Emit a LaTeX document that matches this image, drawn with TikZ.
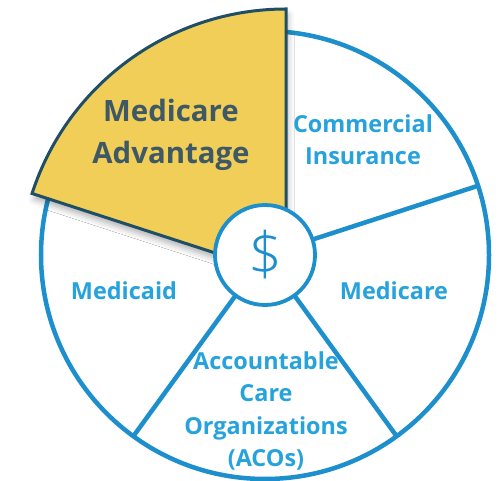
\documentclass[tikz,border=0pt]{standalone}
\usepackage{fontspec}
\setmainfont{Open Sans}
\newfontfamily\thinface{Open Sans Light}
\usetikzlibrary{calc,shadows.blur}
\definecolor{lineblue}{RGB}{29,143,204}
\definecolor{labelblue}{RGB}{38,162,220}
\definecolor{wedgefill}{RGB}{240,206,87}
\definecolor{wedgeedge}{RGB}{31,78,102}
\definecolor{wedgetext}{RGB}{62,88,102}
\tikzset{
  ring/.style={draw=lineblue, line width=4.5bp, fill=white},
  spoke/.style={draw=lineblue, line width=4.5bp},
  hub/.style={circle, draw=lineblue, line width=3.8bp, fill=white, minimum size=100bp, inner sep=0pt},
  highlight/.style={fill=wedgefill, draw=wedgeedge, line width=3bp, line join=miter,
    blur shadow={shadow xshift=2bp, shadow yshift=-6bp, shadow blur radius=6bp, shadow opacity=30}},
  seglabel/.style={font=\bfseries\fontsize{23.5}{32.3}\selectfont, text=labelblue, align=center, inner sep=0pt},
  biglabel/.style={font=\bfseries\fontsize{29.5}{42}\selectfont, text=wedgetext, align=center, inner sep=0pt}
}
\begin{document}
\begin{tikzpicture}[x=1bp,y=1bp]
  \useasboundingbox (0,0) rectangle (503,481);
  \coordinate (C) at (265,226);
  \coordinate (A) at (286,205);
  % outer ring
  \draw[ring] (C) circle[radius=224bp];
  % dividers between the segments
  \foreach \a in {18,-54,-126}
    \draw[spoke] ($(C)+(\a:50bp)$) -- ($(C)+(\a:224bp)$);
  % highlighted segment, pulled out and enlarged
  \path[highlight] (A) -- ++(90:267bp) arc[start angle=90, end angle=162, radius=267bp] -- cycle;
  % hub
  \node[hub] (hub) at (C) {};
  \node[text=lineblue, font=\thinface\fontsize{60}{60}\selectfont] (dollar) at (266,226) {\$};
  % segment labels
  \node[biglabel] (ma) at (171,346) {Medicare\\Advantage};
  \node[seglabel] (ci) at (363,341) {Commercial\\Insurance};
  \node[seglabel] (mcaid) at (124,190) {Medicaid};
  \node[seglabel] (mcare) at (394,190) {Medicare};
  \node[seglabel] (aco) at (266,70) {Accountable\\Care\\Organizations\\(ACOs)};
\end{tikzpicture}
\end{document}
